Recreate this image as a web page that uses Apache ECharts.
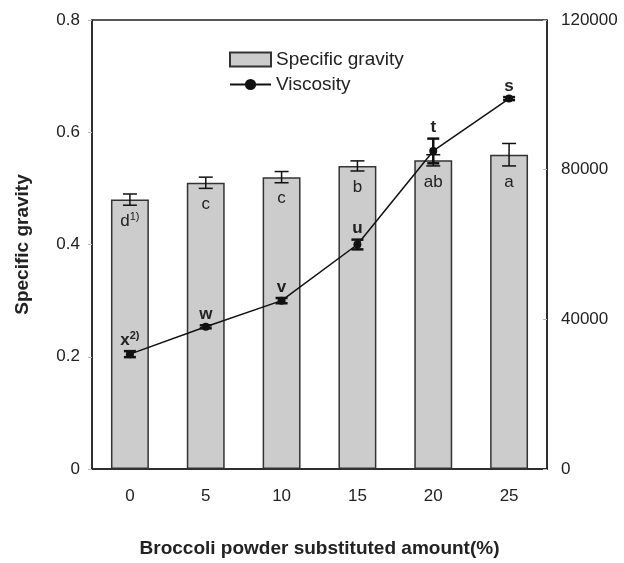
<!DOCTYPE html>
<html>
<head>
<meta charset="utf-8">
<script src="https://cdn.jsdelivr.net/npm/echarts@6/dist/echarts.min.js"></script>
<style>
html,body{margin:0;padding:0;background:#fff;}
#chart{width:624px;height:563px;}
</style>
</head>
<body>
<div id="chart"></div>
<script>
const categories = ['0', '5', '10', '15', '20', '25'];
const specificGravity = [0.48, 0.51, 0.52, 0.54, 0.55, 0.56];
const specificGravityErr = [0.01, 0.01, 0.01, 0.009, 0.01, 0.02];
const sgLetters = ['d', 'c', 'c', 'b', 'ab', 'a'];
const sgSup = ['1)', '', '', '', '', ''];
const viscosity = [30700, 38000, 45000, 60000, 85000, 99000];
const viscosityErr = [800, 400, 700, 1300, 3300, 400];
const viscLetters = ['x', 'w', 'v', 'u', 't', 's'];
const viscSup = ['2)', '', '', '', '', ''];
const leftTicks = { min: 0, max: 0.8, interval: 0.2 };
const rightTicks = { min: 0, max: 120000, interval: 40000 };

const FONT = 'Liberation Sans, Arial, Helvetica, sans-serif';
const chart = echarts.init(document.getElementById('chart'));

function errItem(capHalf, lw, letters, sups, below, bold) {
  return function (params, api) {
    const i = api.value(0), v = api.value(1), e = api.value(2);
    const top = api.coord([i, v + e]);
    const bot = api.coord([i, v - e]);
    const x = top[0];
    const st = { stroke: '#111', lineWidth: lw };
    const idx = params.dataIndex;
    const txt = sups[idx] ? '{m|' + letters[idx] + '}{s|' + sups[idx] + '}' : '{m|' + letters[idx] + '}';
    const ty = below ? bot[1] + 16 : top[1] - 11;
    return {
      type: 'group',
      children: [
        { type: 'line', shape: { x1: x, y1: top[1], x2: x, y2: bot[1] }, style: st },
        { type: 'line', shape: { x1: x - capHalf, y1: top[1], x2: x + capHalf, y2: top[1] }, style: st },
        { type: 'line', shape: { x1: x - capHalf, y1: bot[1], x2: x + capHalf, y2: bot[1] }, style: st },
        {
          type: 'text',
          style: {
            text: txt, x: x, y: ty, align: 'center', verticalAlign: 'middle',
            rich: {
              m: { fontFamily: FONT, fontSize: 17, fontWeight: bold ? 'bold' : 'normal', fill: '#222' },
              s: { fontFamily: FONT, fontSize: 11, fontWeight: bold ? 'bold' : 'normal', fill: '#222', verticalAlign: 'top', padding: [0, 0, 8, 0] }
            }
          }
        }
      ]
    };
  };
}

const option = {
  animation: false,
  backgroundColor: '#fff',
  textStyle: { fontFamily: FONT },
  grid: { left: 92, right: 77, top: 20, bottom: 94, show: true, borderColor: '#222', borderWidth: 1.5, backgroundColor: 'transparent' },
  legend: {
    orient: 'vertical', left: 229, top: 50, padding: 0, itemWidth: 41, itemHeight: 14, itemGap: 6,
    textStyle: { fontFamily: FONT, fontSize: 19, color: '#222' },
    data: [
      { name: 'Specific gravity', icon: 'rect' },
      { name: 'Viscosity' }
    ]
  },
  xAxis: {
    type: 'category', data: categories,
    axisLine: { lineStyle: { color: '#222', width: 1.5 } },
    axisTick: { show: false },
    axisLabel: { fontFamily: FONT, fontSize: 17, color: '#222', margin: 19 },
    name: 'Broccoli powder substituted amount(%)', nameLocation: 'middle', nameGap: 70,
    nameTextStyle: { fontFamily: FONT, fontSize: 19, fontWeight: 'bold', color: '#222' }
  },
  yAxis: [
    {
      type: 'value', min: leftTicks.min, max: leftTicks.max, interval: leftTicks.interval,
      axisLine: { show: true, lineStyle: { color: '#222', width: 1.5 } },
      axisTick: { show: true, length: 4, lineStyle: { color: '#bbb' } },
      splitLine: { show: false },
      axisLabel: { fontFamily: FONT, fontSize: 17, color: '#222', margin: 12 },
      name: 'Specific gravity', nameLocation: 'middle', nameGap: 60, nameRotate: 90,
      nameTextStyle: { fontFamily: FONT, fontSize: 19, fontWeight: 'bold', color: '#222' }
    },
    {
      type: 'value', min: rightTicks.min, max: rightTicks.max, interval: rightTicks.interval,
      position: 'right',
      axisLine: { show: true, lineStyle: { color: '#222', width: 1.5 } },
      axisTick: { show: true, inside: true, length: 4, lineStyle: { color: '#bbb' } },
      splitLine: { show: false },
      axisLabel: { fontFamily: FONT, fontSize: 17, color: '#222', margin: 14, formatter: (v) => String(v) }
    }
  ],
  series: [
    {
      name: 'Specific gravity', type: 'bar', data: specificGravity, barWidth: '50%', yAxisIndex: 0,
      itemStyle: { color: '#cccccc', borderColor: '#333', borderWidth: 1.5 }, z: 2
    },
    {
      name: 'sgErr', type: 'custom', yAxisIndex: 0, z: 3,
      renderItem: errItem(7, 1.5, sgLetters, sgSup, true, false),
      data: specificGravity.map((v, i) => [i, v, specificGravityErr[i]])
    },
    {
      name: 'Viscosity', type: 'line', data: viscosity, yAxisIndex: 1,
      lineStyle: { color: '#111', width: 1.5 }, itemStyle: { color: '#111' },
      symbol: 'circle', symbolSize: 8, z: 5
    },
    {
      name: 'viscErr', type: 'custom', yAxisIndex: 1, z: 6,
      renderItem: errItem(6, 2.5, viscLetters, viscSup, false, true),
      data: viscosity.map((v, i) => [i, v, viscosityErr[i]])
    }
  ]
};
chart.setOption(option);
</script>
</body>
</html>
